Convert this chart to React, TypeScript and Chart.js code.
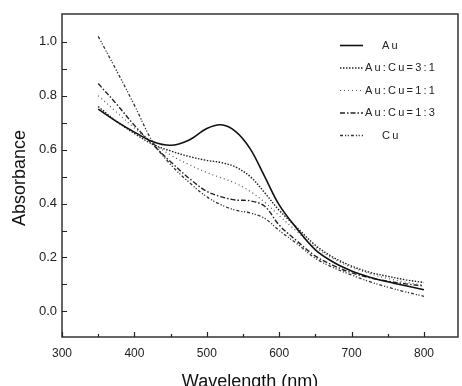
import React, { useEffect, useRef } from "react";
import { Chart, registerables } from "chart.js";

Chart.register(...registerables);

const wavelengths = [350, 375, 400, 425, 450, 475, 500, 520, 540, 560, 580, 600, 625, 650, 675, 700, 725, 750, 775, 800];
const au = [0.75, 0.705, 0.665, 0.63, 0.616, 0.635, 0.678, 0.692, 0.667, 0.603, 0.5, 0.395, 0.305, 0.228, 0.182, 0.15, 0.127, 0.11, 0.095, 0.08];
const au3cu1 = [0.76, 0.705, 0.66, 0.62, 0.595, 0.575, 0.56, 0.552, 0.535, 0.5, 0.44, 0.375, 0.31, 0.245, 0.2, 0.168, 0.145, 0.13, 0.117, 0.107];
const au1cu1 = [0.8, 0.74, 0.68, 0.625, 0.58, 0.545, 0.515, 0.495, 0.475, 0.445, 0.405, 0.355, 0.295, 0.238, 0.195, 0.163, 0.14, 0.122, 0.108, 0.097];
const au1cu3 = [0.845, 0.77, 0.69, 0.62, 0.555, 0.495, 0.445, 0.425, 0.413, 0.41, 0.39, 0.32, 0.26, 0.205, 0.17, 0.143, 0.125, 0.112, 0.102, 0.094];
const cu = [1.02, 0.895, 0.765, 0.63, 0.545, 0.48, 0.425, 0.395, 0.375, 0.365, 0.345, 0.3, 0.25, 0.197, 0.162, 0.135, 0.11, 0.09, 0.072, 0.056];

const seriesLabels = ["Au", "Au:Cu=3:1", "Au:Cu=1:1", "Au:Cu=1:3", "Cu"];
const xTicks = [300, 400, 500, 600, 700, 800];
const xMinorTicks = [350, 450, 550, 650, 750];
const yTicks = [0, 0.2, 0.4, 0.6, 0.8, 1.0];
const yMinorTicks = [0.1, 0.3, 0.5, 0.7, 0.9];
const xTitle = "Wavelength (nm)";
const yTitle = "Absorbance";

const dashes: number[][] = [[], [1.5, 1.5], [1, 3], [5, 2, 1.5, 2], [3, 2, 1.2, 1.5, 1.2, 2]];
const widths = [1.6, 1.4, 1.2, 1.4, 1.3];
const colors = ["#111", "#222", "#555", "#222", "#333"];

const decorPlugin = {
  id: "decor",
  afterDraw(chart: any) {
    const ctx = chart.ctx;
    const { left, right, top, bottom } = chart.chartArea;
    const xs = chart.scales.x;
    const ys = chart.scales.y;
    ctx.save();
    ctx.strokeStyle = "#333";
    ctx.lineWidth = 1.5;
    ctx.strokeRect(left, top, right - left, bottom - top);
    ctx.lineWidth = 1.2;
    ctx.strokeStyle = "#222";
    ctx.beginPath();
    xTicks.forEach((v) => {
      const px = Math.round(xs.getPixelForValue(v)) + 0.5;
      ctx.moveTo(px, bottom);
      ctx.lineTo(px, bottom - 5);
    });
    xMinorTicks.forEach((v) => {
      const px = Math.round(xs.getPixelForValue(v)) + 0.5;
      ctx.moveTo(px, bottom);
      ctx.lineTo(px, bottom - 3);
    });
    [...yTicks, ...yMinorTicks].forEach((v) => {
      const py = Math.round(ys.getPixelForValue(v)) + 0.5;
      ctx.moveTo(left, py);
      ctx.lineTo(left + 5, py);
    });
    ctx.stroke();

    const rowY = [45, 67.5, 90, 112.5, 135];
    ctx.font = "11px Arial, 'Liberation Sans', sans-serif";
    (ctx as any).letterSpacing = "2.2px";
    ctx.fillStyle = "#222";
    ctx.textBaseline = "middle";
    chart.data.datasets.forEach((ds: any, i: number) => {
      const y = rowY[i] + 0.5;
      ctx.beginPath();
      ctx.setLineDash(dashes[i]);
      ctx.lineWidth = widths[i];
      ctx.strokeStyle = colors[i];
      ctx.moveTo(340, y);
      ctx.lineTo(363, y);
      ctx.stroke();
      ctx.setLineDash([]);
      const short = ds.label.length <= 2;
      ctx.textAlign = "left";
      ctx.fillText(ds.label, short ? 382 : 365, y);
    });
    (ctx as any).letterSpacing = "0px";

    ctx.fillStyle = "#111";
    ctx.font = "18px Arial, 'Liberation Sans', sans-serif";
    ctx.textAlign = "center";
    ctx.textBaseline = "alphabetic";
    ctx.fillText(xTitle, 250, 387);
    ctx.save();
    ctx.translate(25, 178);
    ctx.rotate(-Math.PI / 2);
    ctx.fillText(yTitle, 0, 0);
    ctx.restore();
    ctx.restore();
  },
};

export default function App() {
  const ref = useRef<HTMLCanvasElement | null>(null);
  useEffect(() => {
    document.body.style.margin = "0";
    const seriesData = [au, au3cu1, au1cu1, au1cu3, cu];
    const chart = new Chart(ref.current as HTMLCanvasElement, {
      type: "line",
      data: {
        datasets: seriesData.map((arr, i) => ({
          label: seriesLabels[i],
          data: wavelengths.map((w, j) => ({ x: w, y: arr[j] })),
          borderColor: colors[i],
          borderWidth: widths[i],
          borderDash: dashes[i],
          pointRadius: 0,
          fill: false,
          tension: 0.35,
        })),
      },
      options: {
        animation: false,
        responsive: false,
        maintainAspectRatio: false,
        layout: { padding: { top: 14, right: 4, left: 0, bottom: 0 } },
        plugins: { legend: { display: false }, tooltip: { enabled: false } },
        scales: {
          x: {
            type: "linear",
            min: 300,
            max: 847,
            grid: { display: false, drawTicks: false },
            border: { display: false },
            afterBuildTicks: (s: any) => {
              s.ticks = xTicks.map((v) => ({ value: v }));
            },
            afterFit: (s: any) => {
              s.height = 49;
            },
            ticks: {
              padding: 9,
              color: "#222",
              font: { size: 12, family: "Arial, 'Liberation Sans', sans-serif" },
              maxRotation: 0,
              callback: (v: any) => String(v),
            },
          },
          y: {
            type: "linear",
            min: -0.095,
            max: 1.103,
            grid: { display: false, drawTicks: false },
            border: { display: false },
            afterBuildTicks: (s: any) => {
              s.ticks = yTicks.map((v) => ({ value: v }));
            },
            afterFit: (s: any) => {
              s.width = 62;
            },
            ticks: {
              padding: 5,
              color: "#222",
              font: { size: 13, family: "Arial, 'Liberation Sans', sans-serif" },
              callback: (v: any) => Number(v).toFixed(1),
            },
          },
        },
      },
      plugins: [decorPlugin],
    });
    return () => chart.destroy();
  }, []);
  return (
    <div style={{ position: "absolute", left: 0, top: 0, width: 462, height: 386, background: "#fff" }}>
      <canvas ref={ref} width={462} height={386} style={{ width: 462, height: 386, display: "block" }} />
    </div>
  );
}
